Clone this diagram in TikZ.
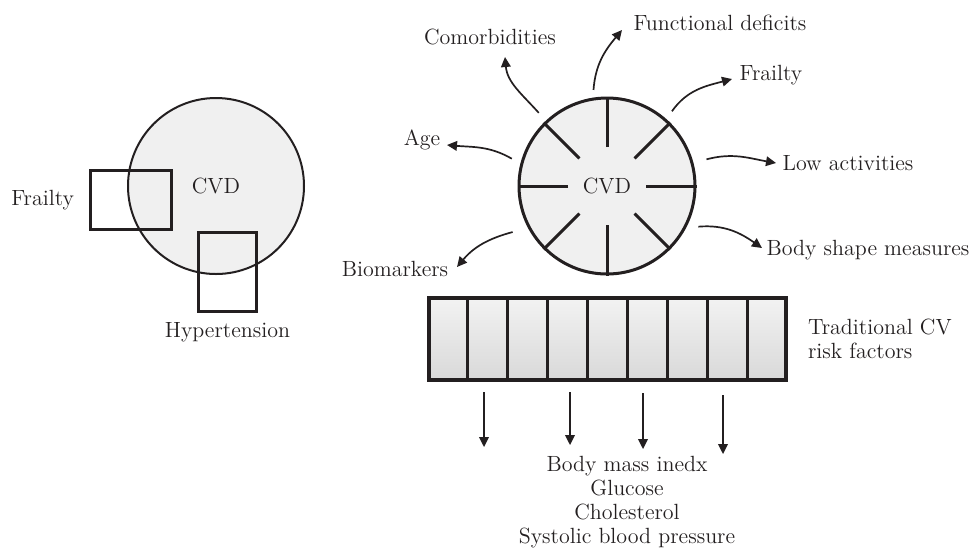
\documentclass[tikz,border=0pt]{standalone}
\usepackage{tikz}
\usetikzlibrary{
    arrows.meta,
    positioning,
    calc
}
\definecolor{cvInk}{RGB}{35,31,32}
\colorlet{cvfill}{gray!12}
\tikzset{
  lbl/.style    = {font=\fontsize{11}{12}\selectfont, text=cvInk},
  sqbox/.style  = {draw=cvInk, line width=1.5pt, minimum width=40.5pt,
                   minimum height=29.5pt},
  arr/.style    = {-{Triangle[length=5pt,width=4.8pt]}, cvInk, line width=0.85pt},
  spoke/.style  = {cvInk, line width=1.5pt}
}

\begin{document}
\begin{tikzpicture}[
    x=0.5pt, y=0.5pt,
    disc/.style={circle, draw=cvInk, fill=cvfill, minimum size=88pt,
                 inner sep=0pt, lbl}
  ]
    \useasboundingbox (0,0) rectangle (974,-548);

    \node[disc, line width=1pt] (cvdL) at (216,-186) {CVD};
    \node[sqbox] (frBox) at (131,-200) {};
    \node[sqbox, minimum width=29pt, minimum height=39.5pt] (hyBox) at (227.5,-272) {};
    \node[lbl, left=4pt of frBox] (frL) {Frailty};
    \node[lbl, below=1pt of hyBox] (hyL) {Hypertension};

    \node[disc, line width=1.5pt] (cvdR) at (607,-186) {CVD};
    \foreach \a in {0,45,...,315}
      \draw[spoke] (cvdR.center) ++(\a:39) -- (cvdR.\a);

    \node[lbl] (comor) at (490,-37)  {Comorbidities};
    \node[lbl] (func)  at (720,-23)  {Functional deficits};
    \node[lbl] (frR)   at (771,-75)  {Frailty};
    \node[lbl] (age)   at (422,-140) {Age};
    \node[lbl] (lowA)  at (848,-163) {Low activities};
    \node[lbl] (body)  at (868,-250) {Body shape measures};
    \node[lbl] (bio)   at (395,-269) {Biomarkers};

    \draw[arr] ([shift={(133:100)}]cvdR.center) to[out=132, in=-85] ([shift={(15,-20)}]comor.center);
    \draw[arr] ([shift={(98:97)}]cvdR.center)   to[out=86,  in=230] ([shift={(-98,-7)}]func.center);
    \draw[arr] ([shift={(49:99)}]cvdR.center)   to[out=55,  in=195] ([shift={(-39,-4)}]frR.center);
    \draw[arr] ([shift={(164:99)}]cvdR.center)  to[out=150, in=-5]  ([shift={(25,-5)}]age.center);
    \draw[arr] ([shift={(15:103)}]cvdR.center)  to[out=15,  in=170] ([shift={(-72,0)}]lowA.center);
    \draw[arr] ([shift={(-24:100)}]cvdR.center) to[out=5,   in=145] ([shift={(-106,2)}]body.center);
    \draw[arr] ([shift={(206:105)}]cvdR.center) to[out=195, in=50]  ([shift={(62,2)}]bio.center);

    \node[draw=cvInk, line width=2pt, top color=gray!10, bottom color=gray!30,
          minimum width=178.5pt, minimum height=41pt, inner sep=0pt] (bar) at (607.5,-339) {};
    \foreach \i in {1,...,8}
      \draw[line width=1.5pt, cvInk] ($(bar.north west)!\i/9!(bar.north east)$)
        -- ($(bar.south west)!\i/9!(bar.south east)$);
    \node[lbl, right=6.5pt of bar, align=left] (trad) {Traditional CV\\risk factors};

    \node[lbl, align=center] (lst) at (627,-502)
      {Body mass inedx\\Glucose\\Cholesterol\\Systolic blood pressure};
    \foreach \dx/\s/\e in {57/5/1, 143/5/2, 216/5.5/0, 296/6.5/-2.5}
      \draw[arr, shorten <=\s pt, shorten >=\e pt]
        ([shift={(\dx,0)}]bar.south west) -- ([shift={(\dx,0)}]bar.south west |- lst.north);
  \end{tikzpicture}
\end{document}
